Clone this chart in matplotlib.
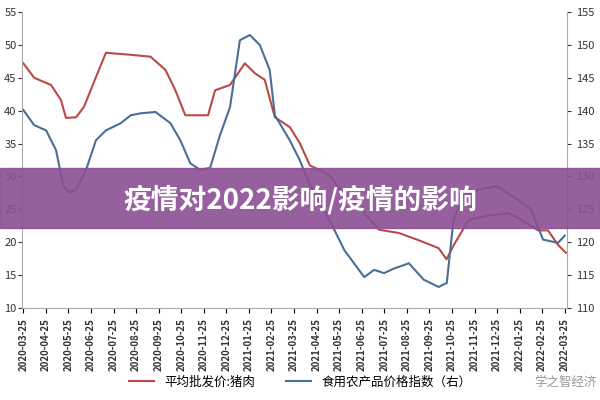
import matplotlib
matplotlib.use("Agg")
import matplotlib.pyplot as plt
import numpy as np

plt.rcParams['font.family'] = ['Noto Sans CJK SC', 'DejaVu Sans']

tick_labels = ["2020-03-25","2020-04-25","2020-05-25","2020-06-25","2020-07-25","2020-08-25",
               "2020-09-25","2020-10-25","2020-11-25","2020-12-25","2021-01-25","2021-02-25",
               "2021-03-25","2021-04-25","2021-05-25","2021-06-25","2021-07-25","2021-08-25",
               "2021-09-25","2021-10-25","2021-11-25","2021-12-25","2022-01-25","2022-02-25","2022-03-25"]

# month index positions and values
pork_m = [0,0.48,1.23,1.67,1.89,2.34,2.69,3.22,3.66,4.74,5.64,6.30,6.74,7.18,8.19,8.50,9.16,9.82,10.26,10.70,11.15,11.81,12.25,12.70,13.57,14.23,15.07,15.77,16.65,17.53,18.41,18.76,19.07,19.74,20.62,21.5,21.94,22.82,23.26,23.70,24.05]
pork_v = [47.2,45.0,43.9,41.6,38.9,39.0,40.6,45.1,48.8,48.5,48.2,46.2,43.1,39.3,39.3,43.1,43.9,47.2,45.7,44.7,39.0,37.5,35.1,31.7,30.2,27.2,24.6,21.9,21.4,20.3,19.1,17.4,19.5,23.4,24.1,24.4,23.7,21.8,21.8,19.6,18.4]
food_m = [0,0.48,1.01,1.45,1.76,2.03,2.34,2.78,3.22,3.66,4.32,4.76,5.20,5.86,6.52,6.96,7.40,7.84,8.28,8.72,9.16,9.60,10.04,10.48,10.92,11.15,11.81,12.25,12.70,13.57,14.23,15.11,15.55,15.99,16.43,17.09,17.75,18.41,18.77,19.07,19.50,20.2,21.0,21.9,22.5,23.04,23.70,24.0]
food_v = [140.1,137.8,137.0,134.0,128.7,127.5,128.0,131.0,135.5,137.0,138.1,139.3,139.6,139.8,138.1,135.5,132.0,131.0,131.3,136.3,140.5,150.7,151.5,150.0,146.2,139.3,135.5,132.5,128.7,123.4,118.8,114.7,115.8,115.3,116.0,116.8,114.3,113.2,113.8,123.4,127.0,128.0,128.5,126.5,125.0,120.4,119.9,121.0]

fig = plt.figure(figsize=(6, 4), dpi=100)
ax = fig.add_axes([0.037, 0.23, 0.908, 0.74])
ax2 = ax.twinx()
ax.plot(pork_m, pork_v, color='#b94a48', lw=1.5, label='平均批发价:猪肉')
ax2.plot(food_m, food_v, color='#4a6f94', lw=1.5, label='食用农产品价格指数（右）')
ax.set_ylim(10, 55)
ax2.set_ylim(110, 155)
ax.set_xlim(-0.05, 24.1)
ax.set_xticks(range(len(tick_labels)))
ax.set_xticklabels(tick_labels, rotation=90, fontsize=7, fontweight='bold', color='#333333')
ax.set_yticks(np.arange(10, 56, 5))
ax2.set_yticks(np.arange(110, 156, 5))
for a in (ax, ax2):
    a.tick_params(axis='y', labelsize=8, colors='#333333', length=3)
    for s in a.spines.values():
        s.set_visible(False)
ax.spines['left'].set_visible(True); ax.spines['left'].set_color('#aaaaaa')
ax.spines['bottom'].set_visible(True); ax.spines['bottom'].set_color('#aaaaaa')
ax2.spines['right'].set_visible(True); ax2.spines['right'].set_color('#aaaaaa')
ax.tick_params(axis='y', pad=1)

h1, l1 = ax.get_legend_handles_labels()
h2, l2 = ax2.get_legend_handles_labels()
fig.legend(h1 + h2, l1 + l2, loc='center', bbox_to_anchor=(0.5, 0.045), ncol=2,
           frameon=False, fontsize=9, handlelength=2, columnspacing=2.5)

fig.text(0.995, 0.045, '学之智经济', fontsize=9, color='#999999', ha='right', va='center')

fig.patches.append(plt.Rectangle((0, 0.43), 1, 0.15, transform=fig.transFigure,
                                 color='#8a4f92', alpha=0.9, zorder=10))
fig.text(0.5, 0.5, '疫情对2022影响/疫情的影响', fontsize=20, fontweight='bold',
         color='white', ha='center', va='center', zorder=11)

fig.savefig('out.png', dpi=100)
